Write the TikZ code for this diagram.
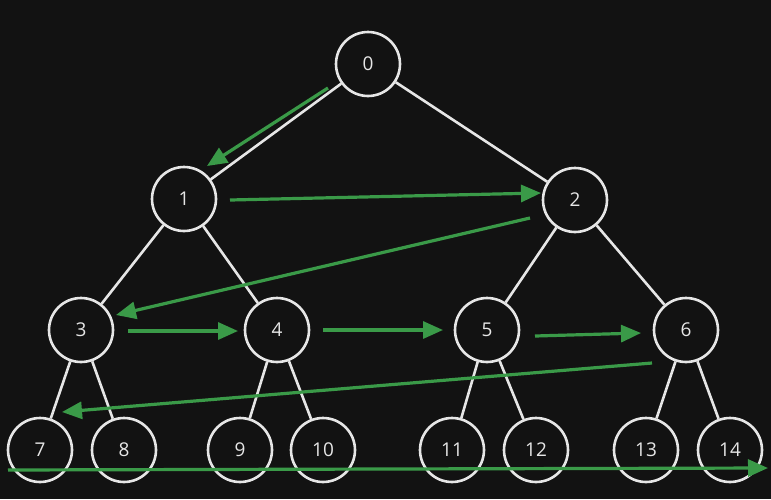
\documentclass[tikz,border=0pt]{standalone}
\usepackage{fontspec}
\setmainfont{Open Sans}
\usetikzlibrary{arrows.meta}
\definecolor{bg}{HTML}{121212}
\definecolor{fg}{HTML}{E6E6E6}
\definecolor{gr}{HTML}{3A9A48}
\tikzset{
  vert/.style={circle, draw=fg, line width=2.6pt, minimum size=64pt, inner sep=0pt, text=fg, font=\fontsize{19}{19}\selectfont},
  edge/.style={draw=fg, line width=2.6pt},
  garrow/.style={draw=gr, line width=3.2pt, -{Triangle[length=20pt,width=17pt,fill=gr]}},
}
\begin{document}
\begin{tikzpicture}[x=1pt,y=-1pt]
\fill[bg] (0,0) rectangle (771,499);
\useasboundingbox (0,0) rectangle (771,499);
\node[vert] (n0) at (368,64) {0};
\node[vert] (n1) at (184,199) {1};
\node[vert] (n2) at (575,200) {2};
\node[vert] (n3) at (81,330) {3};
\node[vert] (n4) at (277,330) {4};
\node[vert] (n5) at (487,330) {5};
\node[vert] (n6) at (686,330) {6};
\node[vert] (n7) at (40,450) {7};
\node[vert] (n8) at (124,450) {8};
\node[vert] (n9) at (240,450) {9};
\node[vert] (n10) at (323,450) {10};
\node[vert] (n11) at (452,450) {11};
\node[vert] (n12) at (536,450) {12};
\node[vert] (n13) at (646,450) {13};
\node[vert] (n14) at (730,450) {14};
\foreach \a/\b in {n0/n1,n0/n2,n1/n3,n1/n4,n2/n5,n2/n6,n3/n7,n3/n8,n4/n9,n4/n10,n5/n11,n5/n12,n6/n13,n6/n14}
  \draw[edge] (\a) -- (\b);
\coordinate (a0s) at (328,88);
\coordinate (a0e) at (207,166);
\coordinate (a1s) at (230,200);
\coordinate (a1e) at (541,193);
\coordinate (a2s) at (530,218);
\coordinate (a2e) at (116,315);
\coordinate (a3s) at (128,331);
\coordinate (a3e) at (238,331);
\coordinate (a4s) at (323,330);
\coordinate (a4e) at (443,330);
\coordinate (a5s) at (535,336);
\coordinate (a5e) at (641,333);
\coordinate (a6s) at (652,363);
\coordinate (a6e) at (62,412);
\coordinate (a7s) at (8,470);
\coordinate (a7e) at (768,468);
\foreach \s/\e in {a0s/a0e,a1s/a1e,a2s/a2e,a3s/a3e,a4s/a4e,a5s/a5e,a6s/a6e,a7s/a7e}
  \draw[garrow] (\s) -- (\e);
\end{tikzpicture}
\end{document}
